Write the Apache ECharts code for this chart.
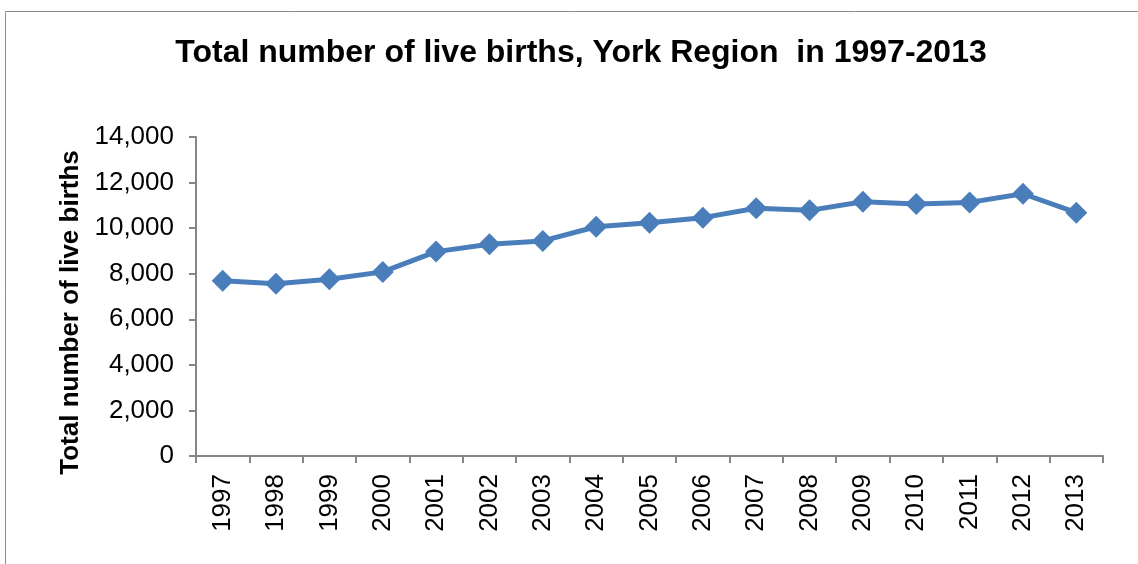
<!DOCTYPE html>
<html>
<head>
<meta charset="utf-8">
<script src="https://cdn.jsdelivr.net/npm/echarts@6/dist/echarts.min.js"></script>
<style>
  html, body { margin: 0; padding: 0; background: #fff; }
  #chart { width: 1138px; height: 564px; }
</style>
</head>
<body>
<div id="chart"></div>
<script>
    var years = ['1997', '1998', '1999', '2000', '2001', '2002', '2003', '2004', '2005',
        '2006', '2007', '2008', '2009', '2010', '2011', '2012', '2013'];
    var births = [7690, 7560, 7760, 8080, 8970, 9290, 9440, 10060, 10240,
        10460, 10870, 10780, 11160, 11060, 11130, 11510, 10680];
    var yTicks = [0, 2000, 4000, 6000, 8000, 10000, 12000, 14000];

    var chart = echarts.init(document.getElementById('chart'));
    var font = 'Liberation Sans, Arial, sans-serif';
    var axisGray = '#868686';

    var option = {
        animation: false,
        backgroundColor: '#fff',
        textStyle: { fontFamily: font },
        title: {
            text: 'Total number of live births, York Region  in 1997-2013',
            left: 576,
            top: 32,
            textAlign: 'center',
            textStyle: { fontFamily: font, fontSize: 32, fontWeight: 'bold', color: '#000' }
        },
        graphic: [{
            type: 'rect',
            shape: { x: 5.5, y: 11.5, width: 1200, height: 600 },
            style: { fill: 'none', stroke: '#8c8c8c', lineWidth: 1 },
            silent: true
        }],
        grid: { left: 196, right: 35, top: 137, bottom: 108 },
        xAxis: {
            type: 'category',
            data: years,
            boundaryGap: true,
            axisLine: { lineStyle: { color: axisGray, width: 2 } },
            axisTick: { show: true, length: 7, alignWithLabel: false, lineStyle: { color: axisGray, width: 2 } },
            axisLabel: { rotate: 90, fontSize: 26, color: '#000', margin: 18, fontFamily: font }
        },
        yAxis: {
            type: 'value',
            min: yTicks[0],
            max: yTicks[yTicks.length - 1],
            interval: 2000,
            name: 'Total number of live births',
            nameLocation: 'middle',
            nameGap: 111,
            nameTextStyle: { fontSize: 26, fontWeight: 'bold', color: '#000', fontFamily: font, padding: [0, 32, 0, 0] },
            axisLine: { show: true, lineStyle: { color: axisGray, width: 2 } },
            axisTick: { show: true, length: 7, lineStyle: { color: axisGray, width: 2 } },
            splitLine: { show: false },
            axisLabel: {
                fontSize: 26,
                color: '#000',
                margin: 22,
                fontFamily: font,
                formatter: function (v) { return v.toLocaleString('en-US'); }
            }
        },
        series: [{
            name: 'Live births',
            type: 'line',
            data: births,
            color: '#4a7ebb',
            lineStyle: { width: 5, color: '#4a7ebb' },
            symbol: 'diamond',
            symbolSize: 22,
            itemStyle: { color: '#4a7ebb' }
        }]
    };

    chart.setOption(option);
</script>
</body>
</html>
